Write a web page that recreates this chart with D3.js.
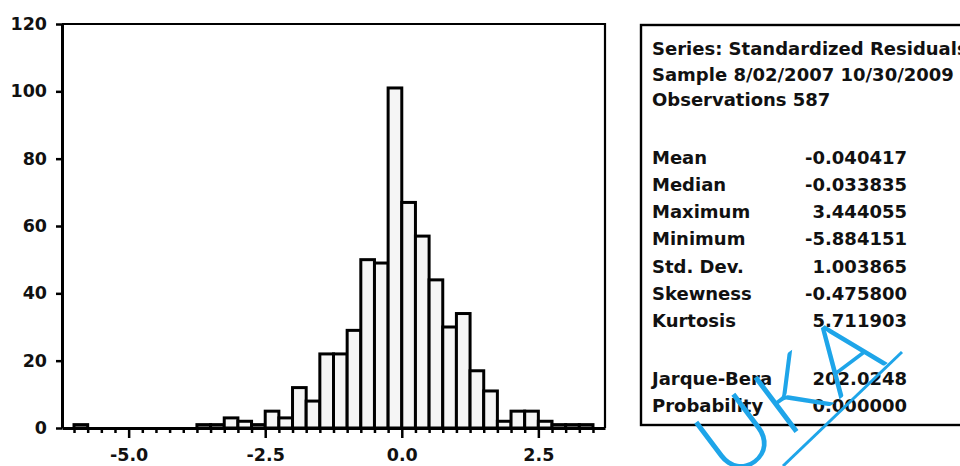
<!DOCTYPE html>
<html>
<head>
<meta charset="utf-8">
<script src="https://cdn.jsdelivr.net/npm/d3@7"></script>
<style>
  body { margin: 0; background: #fff; }
  svg text { font-family: "DejaVu Sans", sans-serif; font-weight: bold; fill: #111; }
</style>
</head>
<body>
<div id="chart"></div>
<script>
// histogram of standardized residuals, bins of 0.25
const binStarts = [-6.0, -5.75, -5.5, -5.25, -5.0, -4.75, -4.5, -4.25, -4.0, -3.75,
                   -3.5, -3.25, -3.0, -2.75, -2.5, -2.25, -2.0, -1.75, -1.5, -1.25,
                   -1.0, -0.75, -0.5, -0.25, 0.0, 0.25, 0.5, 0.75, 1.0, 1.25,
                   1.5, 1.75, 2.0, 2.25, 2.5, 2.75, 3.0, 3.25];
const binCounts = [1, 0, 0, 0, 0, 0, 0, 0, 0, 1,
                   1, 3, 2, 1, 5, 3, 12, 8, 22, 22,
                   29, 50, 49, 101, 67, 57, 44, 30, 34, 17,
                   11, 2, 5, 5, 2, 1, 1, 1];
const binWidth = 0.25;

const yTicks = [0, 20, 40, 60, 80, 100, 120];
const xMajorTicks = [-5.0, -2.5, 0.0, 2.5];
const xMajorLabels = ['-5.0', '-2.5', '0.0', '2.5'];

const headerLines = ['Series: Standardized Residuals', 'Sample 8/02/2007 10/30/2009', 'Observations 587'];
const statNames = ['Mean', 'Median', 'Maximum', 'Minimum', 'Std. Dev.', 'Skewness', 'Kurtosis'];
const statValues = ['-0.040417', '-0.033835', '3.444055', '-5.884151', '1.003865', '-0.475800', '5.711903'];
const testNames = ['Jarque-Bera', 'Probability'];
const testValues = ['202.0248', '0.000000'];

const width = 960, height = 466;
const svg = d3.select('#chart')
  .append('svg')
    .attr('width', width)
    .attr('height', height);

const x = d3.scaleLinear().domain([-6.22, 3.72]).range([62, 605]);
const y = d3.scaleLinear().domain([0, 120]).range([428, 24]);

// bars
let bins = binStarts.map((s, i) => ({start: s, count: binCounts[i]})).filter(d => d.count > 0);
svg.selectAll('rect.bar')
  .data(bins).enter().append('rect')
    .attr('class', 'bar')
    .attr('x', d => x(d.start))
    .attr('width', d => x(d.start + binWidth) - x(d.start))
    .attr('y', d => y(d.count))
    .attr('height', d => y(0) - y(d.count))
    .attr('fill', '#f5f5f5')
    .attr('stroke', '#000')
    .attr('stroke-width', 3);

// top and right frame
svg.append('path')
  .attr('d', `M${x.range()[0]},${y.range()[1]}H${x.range()[1]}V${y.range()[0]}`)
  .attr('fill', 'none')
  .attr('stroke', '#000')
  .attr('stroke-width', 2.2);

let yAxis = svg.append('g')
  .attr('transform', `translate(${x.range()[0]},0)`)
  .call(d3.axisLeft(y).tickValues(yTicks).tickSize(6).tickPadding(9).tickSizeOuter(0));

let xTicks = binStarts.concat([binStarts[binStarts.length - 1] + binWidth]);
let xAxis = svg.append('g')
  .attr('transform', `translate(0,${y(0)})`)
  .call(d3.axisBottom(x).tickValues(xTicks).tickSize(5).tickPadding(16).tickSizeOuter(0)
    .tickFormat(d => {
      let k = xMajorTicks.indexOf(d);
      return k >= 0 ? xMajorLabels[k] : '';
    }));

xAxis.selectAll('.tick line').attr('y2', d => xMajorTicks.includes(d) ? 10 : 5);

[xAxis, yAxis].forEach(g => {
  g.select('.domain').attr('stroke', '#000').attr('stroke-width', 3);
  g.selectAll('.tick line').attr('stroke', '#000').attr('stroke-width', 2.5);
  g.selectAll('text').style('font-size', '17.5px');
});

// statistics panel
svg.append('rect')
  .attr('x', 641).attr('y', 25)
  .attr('width', 340).attr('height', 400)
  .attr('fill', 'none')
  .attr('stroke', '#000')
  .attr('stroke-width', 2.4);

let panel = svg.append('g').style('font-size', '18px');

panel.selectAll('text.head')
  .data(headerLines).enter().append('text')
    .attr('x', 652)
    .attr('y', (d, i) => 55 + i * 25.5)
    .text(d => d);

let rows = statNames.map((n, i) => ({name: n, value: statValues[i], top: 163.5 + i * 27.3}))
  .concat(testNames.map((n, i) => ({name: n, value: testValues[i], top: 384.5 + i * 27})));

panel.selectAll('text.name')
  .data(rows).enter().append('text')
    .attr('x', 652)
    .attr('y', d => d.top)
    .text(d => d.name);

panel.selectAll('text.value')
  .data(rows).enter().append('text')
    .attr('x', 907)
    .attr('y', d => d.top)
    .attr('text-anchor', 'end')
    .text(d => d.value);

// blue watermark across the panel
let mark = svg.append('g').attr('transform', 'translate(789,394) rotate(-37)');
mark.append('text')
  .attr('text-anchor', 'middle')
  .attr('dy', '0.36em')
  .attr('letter-spacing', 4)
  .style('font-family', 'Lato, sans-serif')
  .style('font-weight', 300)
  .style('font-size', '96px')
  .style('fill', '#1ea5e9')
  .text('UKA');
svg.append('line')
  .attr('x1', 783).attr('y1', 466)
  .attr('x2', 902).attr('y2', 352)
  .attr('stroke', '#1ea5e9')
  .attr('stroke-width', 3);
</script>
</body>
</html>
